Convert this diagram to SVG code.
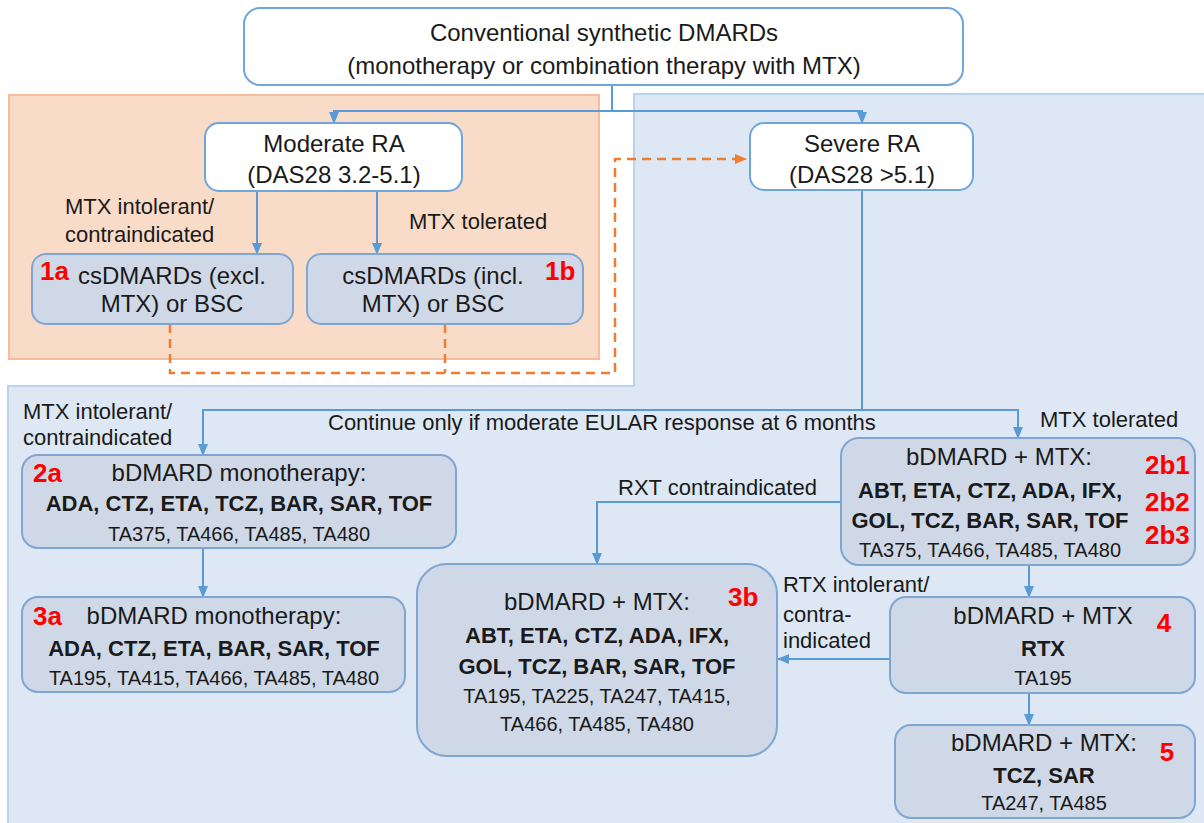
<svg xmlns="http://www.w3.org/2000/svg" width="1204" height="823" viewBox="0 0 1204 823">
<defs>
<marker id="arr" markerUnits="userSpaceOnUse" markerWidth="12" markerHeight="12" viewBox="0 0 12 12" refX="11" refY="6" orient="auto">
<path d="M0,1 L12,6 L0,11 Z" fill="#5b9bd5"/>
</marker>
<marker id="arrO" markerUnits="userSpaceOnUse" markerWidth="12" markerHeight="12" viewBox="0 0 12 12" refX="11" refY="6" orient="auto">
<path d="M0,1 L12,6 L0,11 Z" fill="#ed7d31"/>
</marker>
<style>
text{font-family:"Liberation Sans",Arial,sans-serif;fill:#1a1a1a}
.w{fill:#ffffff;stroke:#6fa5dc;stroke-width:2}
.g{fill:#cfd8e6;stroke:#7fa6d2;stroke-width:2}
.t{font-size:24px;text-anchor:middle}
.b{font-size:22px;font-weight:bold;text-anchor:middle}
.s{font-size:20px;text-anchor:middle}
.l{font-size:22px}
.r{font-size:26px;font-weight:bold;fill:#ff0000}
.c{fill:none;stroke:#5b9bd5;stroke-width:2}
.d{fill:none;stroke:#ed7d31;stroke-width:2.5;stroke-dasharray:9,6}
</style>
</defs>
<rect width="1204" height="823" fill="#ffffff"/>
<g id="regions">
<rect x="9" y="95" width="590" height="264" fill="#f9dcc8" stroke="#f6bd9c" stroke-width="2"/>
<path d="M634,94 H1210 V830 H8 V386 H634 Z" fill="#dde8f4" stroke="#b9d2ee" stroke-width="2"/>
</g>
<g id="connectors">
<path class="c" d="M612,85 V111 H334 V123" marker-end="url(#arr)"/>
<path class="c" d="M612,111 H862 V123" marker-end="url(#arr)"/>
<path class="c" d="M257,191 V254" marker-end="url(#arr)"/>
<path class="c" d="M377,191 V254" marker-end="url(#arr)"/>
<path class="d" d="M445,324 V373"/>
<path class="d" d="M170,324 V373 H615 V159 H746" marker-end="url(#arrO)"/>
<path class="c" d="M862,190 V410 H203 V455" marker-end="url(#arr)"/>
<path class="c" d="M862,410 H1018 V438" marker-end="url(#arr)"/>
<path class="c" d="M203,548 V597" marker-end="url(#arr)"/>
<path class="c" d="M841,502 H597 V564" marker-end="url(#arr)"/>
<path class="c" d="M1029,565 V597" marker-end="url(#arr)"/>
<path class="c" d="M890,659 H778" marker-end="url(#arr)"/>
<path class="c" d="M1029,693 V725" marker-end="url(#arr)"/>
</g>
<g id="labels">
<text class="l" x="65" y="214">MTX intolerant/</text>
<text class="l" x="65" y="242">contraindicated</text>
<text class="l" x="409" y="229">MTX tolerated</text>
<text class="l" x="23" y="419">MTX intolerant/</text>
<text class="l" x="23" y="445">contraindicated</text>
<text class="l" x="328" y="430">Continue only if moderate EULAR response at 6 months</text>
<text class="l" x="1040" y="427">MTX tolerated</text>
<text class="l" x="618" y="495">RXT contraindicated</text>
<text class="l" x="783" y="592">RTX intolerant/</text>
<text class="l" x="783" y="622">contra-</text>
<text class="l" x="783" y="648">indicated</text>
</g>
<g id="start">
<rect class="w" x="244" y="8" width="719" height="77" rx="16"/>
<text class="t" x="604" y="41">Conventional synthetic DMARDs</text>
<text class="t" x="604" y="74">(monotherapy or combination therapy with MTX)</text>
</g>
<g id="moderate">
<rect class="w" x="205" y="123" width="257" height="68" rx="14"/>
<text class="t" x="334" y="152">Moderate RA</text>
<text class="t" x="334" y="183">(DAS28 3.2-5.1)</text>
</g>
<g id="severe">
<rect class="w" x="750" y="123" width="223" height="67" rx="14"/>
<text class="t" x="862" y="152">Severe RA</text>
<text class="t" x="862" y="183">(DAS28 &gt;5.1)</text>
</g>
<g id="n1a">
<rect class="g" x="32" y="254" width="261" height="70" rx="14"/>
<text class="r" x="40" y="280">1a</text>
<text class="t" x="172" y="284">csDMARDs (excl.</text>
<text class="t" x="172" y="312">MTX) or BSC</text>
</g>
<g id="n1b">
<rect class="g" x="307" y="254" width="276" height="70" rx="14"/>
<text class="r" x="545" y="280">1b</text>
<text class="t" x="433" y="284">csDMARDs (incl.</text>
<text class="t" x="433" y="312">MTX) or BSC</text>
</g>
<g id="n2a">
<rect class="g" x="22" y="455" width="434" height="93" rx="16"/>
<text class="r" x="33" y="482">2a</text>
<text class="t" x="239" y="481">bDMARD monotherapy:</text>
<text class="b" x="239" y="511">ADA, CTZ, ETA, TCZ, BAR, SAR, TOF</text>
<text class="s" x="239" y="541">TA375, TA466, TA485, TA480</text>
</g>
<g id="n3a">
<rect class="g" x="22" y="597" width="383" height="95" rx="16"/>
<text class="r" x="33" y="625">3a</text>
<text class="t" x="214" y="624">bDMARD monotherapy:</text>
<text class="b" x="214" y="656">ADA, CTZ, ETA, BAR, SAR, TOF</text>
<text class="s" x="214" y="685">TA195, TA415, TA466, TA485, TA480</text>
</g>
<g id="n3b">
<rect class="g" x="417" y="564" width="360" height="192" rx="30"/>
<text class="r" x="728" y="606">3b</text>
<text class="t" x="597" y="610">bDMARD + MTX:</text>
<text class="b" x="597" y="643">ABT, ETA, CTZ, ADA, IFX,</text>
<text class="b" x="597" y="674">GOL, TCZ, BAR, SAR, TOF</text>
<text class="s" x="597" y="703">TA195, TA225, TA247, TA415,</text>
<text class="s" x="597" y="731">TA466, TA485, TA480</text>
</g>
<g id="n2b">
<rect class="g" x="841" y="438" width="354" height="127" rx="18"/>
<text class="t" x="999" y="465">bDMARD + MTX:</text>
<text class="b" x="990" y="498">ABT, ETA, CTZ, ADA, IFX,</text>
<text class="b" x="990" y="528">GOL, TCZ, BAR, SAR, TOF</text>
<text class="s" x="990" y="557">TA375, TA466, TA485, TA480</text>
<text class="r" x="1145" y="474">2b1</text>
<text class="r" x="1145" y="511">2b2</text>
<text class="r" x="1145" y="544">2b3</text>
</g>
<g id="n4">
<rect class="g" x="890" y="597" width="305" height="96" rx="16"/>
<text class="t" x="1043" y="624">bDMARD + MTX</text>
<text class="r" x="1164" y="632" text-anchor="middle">4</text>
<text class="b" x="1043" y="656">RTX</text>
<text class="s" x="1043" y="685">TA195</text>
</g>
<g id="n5">
<rect class="g" x="895" y="725" width="300" height="93" rx="16"/>
<text class="t" x="1044" y="751">bDMARD + MTX:</text>
<text class="r" x="1167" y="761" text-anchor="middle">5</text>
<text class="b" x="1044" y="783">TCZ, SAR</text>
<text class="s" x="1044" y="810">TA247, TA485</text>
</g>
</svg>
